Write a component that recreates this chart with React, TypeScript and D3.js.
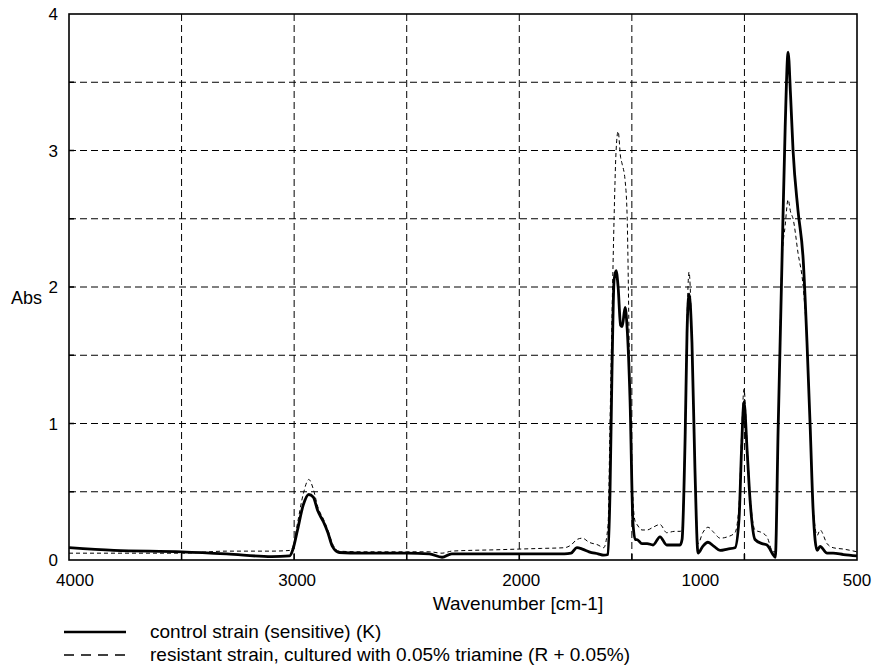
import React from "react"
import * as d3 from "d3"

// wavenumber sample points (cm-1)
const wavenumbers = [
  4000, 3800, 3500, 3300, 3100, 3020, 3005, 2985, 2960, 2935, 2915, 2895, 2870, 2850, 2830, 2800,
  2700, 2500, 2400, 2343, 2300, 2100, 1900, 1800, 1770, 1744, 1720, 1690, 1650, 1625, 1606, 1597,
  1588, 1579, 1570, 1561, 1550, 1543, 1530, 1521, 1508, 1495, 1485, 1477, 1455, 1432, 1406, 1375,
  1345, 1310, 1286, 1277, 1263, 1255, 1246, 1233, 1220, 1206, 1185, 1162, 1135, 1108, 1075, 1042,
  1024, 1013, 1002, 988, 975, 953, 922, 900, 873, 863, 850, 833, 819, 806, 795, 784, 762, 739, 722,
  708, 695, 677, 664, 633, 606, 560, 500,
]

// control strain (sensitive) (K)
const controlAbs = [
  0.09, 0.07, 0.06, 0.045, 0.025, 0.03, 0.08, 0.22, 0.4, 0.48, 0.46, 0.36, 0.28, 0.2, 0.1, 0.055,
  0.05, 0.05, 0.045, 0.02, 0.045, 0.045, 0.045, 0.045, 0.05, 0.09, 0.08, 0.06, 0.045, 0.035, 0.04, 0.5,
  1.41, 2.05, 2.12, 2.0, 1.72, 1.71, 1.85, 1.7, 1.17, 0.27, 0.15, 0.15, 0.12, 0.12, 0.11, 0.17,
  0.11, 0.11, 0.11, 0.15, 0.93, 1.66, 1.95, 1.59, 0.68, 0.05, 0.1, 0.13, 0.1, 0.07, 0.08, 0.09,
  0.3, 0.8, 1.16, 0.8, 0.44, 0.15, 0.12, 0.11, 0.04, 0.02, 0.98, 2.2, 3.17, 3.72, 3.4, 3.0, 2.56, 2.2, 1.59,
  0.98, 0.37, 0.07, 0.1, 0.05, 0.05, 0.04, 0.03,
]

// resistant strain, cultured with 0.05% triamine (R + 0.05%)
const resistantAbs = [
  0.05, 0.05, 0.05, 0.065, 0.065, 0.07, 0.1, 0.27, 0.48, 0.59, 0.52, 0.39, 0.3, 0.22, 0.12, 0.065,
  0.06, 0.06, 0.06, 0.05, 0.065, 0.075, 0.085, 0.09, 0.11, 0.15, 0.16, 0.13, 0.11, 0.09, 0.25, 1.0,
  1.8, 2.5, 3.0, 3.14, 2.95, 2.9, 2.78, 2.52, 1.17, 0.44, 0.28, 0.26, 0.22, 0.22, 0.24, 0.26,
  0.2, 0.21, 0.21, 0.22, 1.0, 1.75, 2.11, 1.6, 0.7, 0.12, 0.2, 0.24, 0.2, 0.16, 0.17, 0.2,
  0.4, 0.9, 1.25, 0.85, 0.48, 0.22, 0.2, 0.17, 0.06, 0.06, 0.98, 2.2, 2.45, 2.64, 2.55, 2.5, 2.25, 2.0, 1.59,
  0.98, 0.4, 0.18, 0.22, 0.12, 0.09, 0.08, 0.06,
]

const xTickLabels = [4000, 3000, 2000, 1000, 500]
const yTickLabels = [0, 1, 2, 3, 4]
const xGrid = [3500, 3000, 2500, 2000, 1500, 1000]
const yGrid = [0.5, 1, 1.5, 2, 2.5, 3, 3.5]

const legendItems = [
  { label: "control strain (sensitive) (K)", dash: "none", width: 2.6 },
  { label: "resistant strain, cultured with 0.05% triamine (R + 0.05%)", dash: "10,7", width: 1.6 },
]

// the labels in the original sit a little off the grid
const xLabelShift = { 4000: 6, 3000: 3, 2000: 2, 1000: -44, 500: 0 }

const font = "'Liberation Sans', Arial, sans-serif"

export default function App() {
  const W = 876
  const H = 666
  const left = 69
  const right = 857
  const top = 14
  const bottom = 560

  const x = d3.scaleLinear().domain([4000, 500]).range([left, right])
  const y = d3.scaleLinear().domain([0, 4]).range([bottom, top])

  const line = d3
    .line<number>()
    .x((_, i) => x(wavenumbers[i]))
    .y((d) => y(d))
    .curve(d3.curveMonotoneX)

  return (
    <svg
      width={W}
      height={H}
      style={{ position: "absolute", left: 0, top: 0, background: "#fff" }}
      fontFamily={font}
    >
      {/* grid */}
      {xGrid.map((v) => (
        <g key={"gx" + v}>
          <line x1={x(v)} x2={x(v)} y1={top} y2={bottom} stroke="#000" strokeWidth={1} strokeDasharray="7,4" />
          <line x1={x(v)} x2={x(v)} y1={bottom - 6} y2={bottom} stroke="#000" strokeWidth={1.5} />
        </g>
      ))}
      {yGrid.map((v) => (
        <g key={"gy" + v}>
          <line x1={left} x2={right} y1={y(v)} y2={y(v)} stroke="#000" strokeWidth={1} strokeDasharray="7,4" />
          <line x1={left} x2={left + 5} y1={y(v)} y2={y(v)} stroke="#000" strokeWidth={1.5} />
        </g>
      ))}

      {/* spectra */}
      <path d={line(resistantAbs) || ""} fill="none" stroke="#000" strokeWidth={1} strokeDasharray="4,3" />
      <path d={line(controlAbs) || ""} fill="none" stroke="#000" strokeWidth={2.8} strokeLinejoin="round" />

      {/* frame */}
      <rect x={left} y={top} width={right - left} height={bottom - top} fill="none" stroke="#000" strokeWidth={1.6} />

      {/* x tick labels */}
      {xTickLabels.map((v) => (
        <text key={"xt" + v} x={x(v) + xLabelShift[v]} y={bottom + 26} textAnchor="middle" fontSize={17}>
          {v}
        </text>
      ))}
      {/* y tick labels */}
      {yTickLabels.map((v) => (
        <text key={"yt" + v} x={left - 11} y={y(v) + 6} textAnchor="end" fontSize={17}>
          {v}
        </text>
      ))}

      <text x={518} y={bottom + 50} textAnchor="middle" fontSize={19}>
        Wavenumber [cm-1]
      </text>
      <text x={11} y={y(2) + 17} fontSize={18}>
        Abs
      </text>

      {/* legend */}
      {legendItems.map((d, i) => (
        <g key={d.label} transform={`translate(64, ${632 + i * 23})`}>
          <line x1={0} x2={62} y1={0} y2={0} stroke="#000" strokeWidth={d.width} strokeDasharray={d.dash} />
          <text x={86} y={6} fontSize={19}>
            {d.label}
          </text>
        </g>
      ))}
    </svg>
  )
}
